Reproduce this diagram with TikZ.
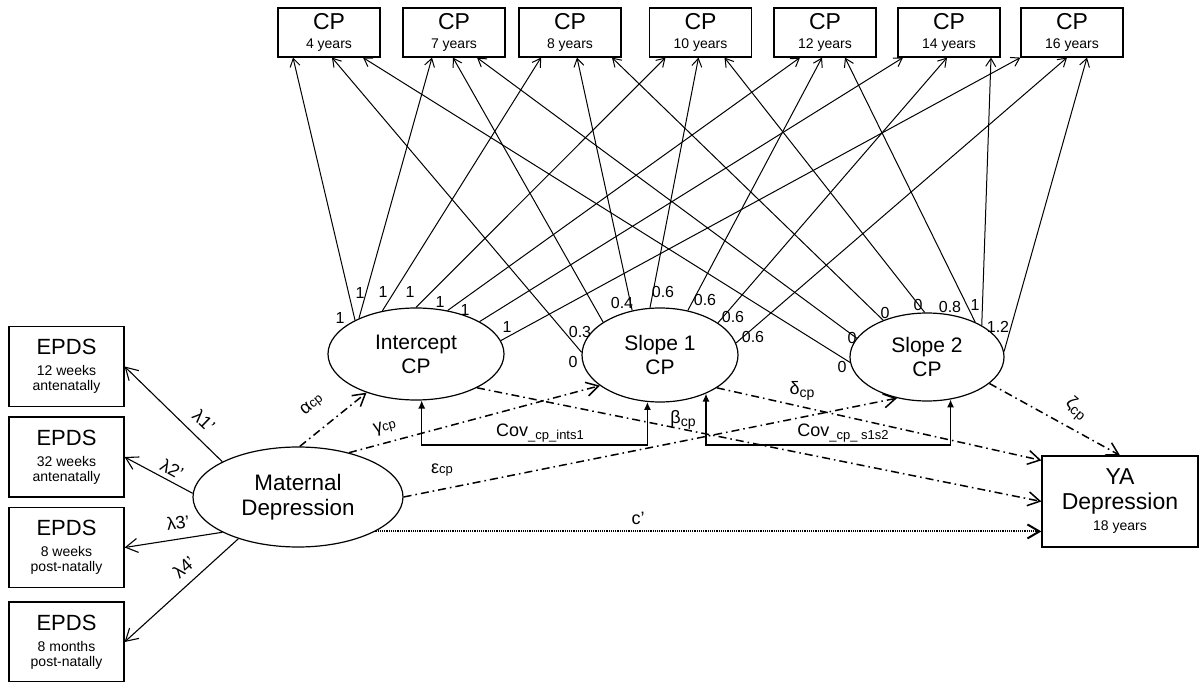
\documentclass[tikz,border=0pt]{standalone}
\usepackage{fontspec}
\setmainfont{Liberation Sans}
\usetikzlibrary{arrows.meta, calc, positioning, shapes.geometric}

\newcommand{\agetxt}[1]{{\fontsize{7}{7}\selectfont #1}}
\newcommand{\cpsub}{\raisebox{-1.5pt}{\fontsize{7}{7}\selectfont cp}}
\newcommand{\cptxt}{{\fontsize{6.5}{7}\selectfont cp}}

\begin{document}
\begin{tikzpicture}[x=0.5pt, y=0.5pt,
	cpbox/.style = {draw, line width=0.6pt, minimum width=51pt, minimum height=24.5pt, inner sep=0pt, align=center, font=\fontsize{11.5}{9.5}\selectfont},
	epds/.style = {draw, line width=0.6pt, minimum width=57.5pt, minimum height=40pt, inner sep=0pt, align=center, font=\fontsize{11}{7.5}\selectfont},
	factor/.style = {draw, line width=0.6pt, ellipse, inner sep=0pt, align=center, font=\fontsize{10.5}{12}\selectfont},
	num/.style = {inner sep=0pt, font=\fontsize{8}{8}\selectfont},
	lbl/.style = {inner sep=0pt, font=\fontsize{9}{9}\selectfont},
	load/.style = {line width=0.5pt, -{Straight Barb[length=4pt, width=5pt]}},
	meas/.style = {line width=0.55pt, -{Straight Barb[length=6pt, width=7pt]}},
	effect/.style = {line width=0.75pt, dash pattern=on 4pt off 2pt on 0.8pt off 2pt, -{Straight Barb[length=6pt, width=7pt]}},
	direct/.style = {line width=1pt, dash pattern=on 0.6pt off 0.5pt, -{Straight Barb[length=6pt, width=7pt]}},
	cov/.style = {line width=0.6pt, {Latex[length=4pt, width=3.5pt]}-{Latex[length=4pt, width=3.5pt]}}]

	\path[use as bounding box, fill=white] (0,0) rectangle (1200,681);

	% repeated measures of CP
	\node[cpbox] (cp4) at (329,648.5) {CP\\\agetxt{4 years}};
	\node[cpbox] (cp7) at (454,648.5) {CP\\\agetxt{7 years}};
	\node[cpbox] (cp8) at (570,648.5) {CP\\\agetxt{8 years}};
	\node[cpbox] (cp10) at (700.5,648.5) {CP\\\agetxt{10 years}};
	\node[cpbox] (cp12) at (825,648.5) {CP\\\agetxt{12 years}};
	\node[cpbox] (cp14) at (949,648.5) {CP\\\agetxt{14 years}};
	\node[cpbox] (cp16) at (1072,648.5) {CP\\\agetxt{16 years}};

	% growth factors
	\node[factor, minimum width=88pt, minimum height=46pt] (int) at (416,327) {Intercept\\CP};
	\node[factor, minimum width=78pt, minimum height=47pt] (s1) at (660,326) {Slope 1\\CP};
	\node[factor, minimum width=77pt, minimum height=44pt] (s2) at (927,324) {Slope 2\\CP};

	% maternal depression and its indicators
	\node[factor, minimum width=105pt, minimum height=50pt, font=\fontsize{11.2}{12.5}\selectfont] (mat) at (298,184) {Maternal\\Depression};
	\node[epds] (e1) at (66.5,314.5) {EPDS\\[3pt]\agetxt{12 weeks}\\\agetxt{antenatally}};
	\node[epds] (e2) at (66.5,224) {EPDS\\[3pt]\agetxt{32 weeks}\\\agetxt{antenatally}};
	\node[epds] (e3) at (66.5,133.5) {EPDS\\[3pt]\agetxt{8 weeks}\\\agetxt{post-natally}};
	\node[epds] (e4) at (66.5,39) {EPDS\\[3pt]\agetxt{8 months}\\\agetxt{post-natally}};

	% outcome
	\node[draw, line width=0.6pt, minimum width=78pt, minimum height=45.5pt, inner sep=0pt, align=center, font=\fontsize{11.5}{10.5}\selectfont] (ya) at (1120,179.5) {YA\\[2pt]Depression\\\agetxt{18 years}};

	% intercept loadings
	\draw[load] (int.151) -- ($(cp4.south)+(-36,0)$);
	\draw[load] (int.148) -- ($(cp7.south)+(-22,0)$);
	\draw[load] (int.128) -- ($(cp8.south)+(-29,0)$);
	\draw[load] (int.90) -- ($(cp10.south)+(-35,0)$);
	\draw[load] (int.54) -- ($(cp12.south)+(-25,0)$);
	\draw[load] (int.27) -- ($(cp14.south)+(-46,0)$);
	\draw[load] (int.9) -- (cp16.south west);
	% slope 1 loadings
	\draw[load] (s1.178) -- ($(cp4.south)+(3,0)$);
	\draw[load] (s1.150) -- ($(cp7.south)+(-1,0)$);
	\draw[load] (s1.122) -- ($(cp8.south)+(7,0)$);
	\draw[load] (s1.102) -- ($(cp10.south)+(-2,0)$);
	\draw[load] (s1.58) -- ($(cp12.south)+(-3,0)$);
	\draw[load] (s1.29) -- ($(cp14.south)+(-2,0)$);
	\draw[load] (s1.9) -- ($(cp16.south)+(-5,0)$);
	% slope 2 loadings
	\draw[load] (s2.184) -- ($(cp4.south)+(34,0)$);
	\draw[load] (s2.165) -- ($(cp7.south)+(23,0)$);
	\draw[load] (s2.140) -- ($(cp8.south)+(42,0)$);
	\draw[load] (s2.93) -- ($(cp10.south)+(24,0)$);
	\draw[load] (s2.36) -- ($(cp12.south)+(20,0)$);
	\draw[load] (s2.30) -- ($(cp14.south)+(42,0)$);
	\draw[load] (s2.4) -- ($(cp16.south)+(15,0)$);

	\node[num] (n1) at (340,363) {1};
	\node[num] (n2) at (360,388) {1};
	\node[num] (n3) at (383,389) {1};
	\node[num] (n4) at (410,389) {1};
	\node[num] (n5) at (440,379) {1};
	\node[num] (n6) at (465,371) {1};
	\node[num] (n7) at (507,354) {1};
	\node[num] (n8) at (573,319) {0};
	\node[num] (n9) at (580,349) {0.3};
	\node[num] (n10) at (622,378) {0.4};
	\node[num] (n11) at (663,389) {0.6};
	\node[num] (n12) at (705,381) {0.6};
	\node[num] (n13) at (733,364) {0.6};
	\node[num] (n14) at (753,344) {0.6};
	\node[num] (n15) at (842,314) {0};
	\node[num] (n16) at (852,343) {0};
	\node[num] (n17) at (885,368) {0};
	\node[num] (n18) at (918,376) {0};
	\node[num] (n19) at (950,374) {0.8};
	\node[num] (n20) at (975,376) {1};
	\node[num] (n21) at (998,354) {1.2};

	% measurement of maternal depression
	\draw[meas] (mat.155) -- (e1.east);
	\draw[meas] (mat.178) -- (e2.east);
	\draw[meas] (mat.205) -- (e3.east);
	\draw[meas] (mat.215) -- (e4.east);
	\node[lbl, rotate=-44] (lam1) at (204,260) {λ1'};
	\node[lbl, rotate=-29] (lam2) at (172,212) {λ2'};
	\node[lbl, rotate=8] (lam3) at (178,158) {λ3'};
	\node[lbl, rotate=41] (lam4) at (184,114) {λ4'};

	% structural paths
	\draw[effect] (mat.88) -- (int.218);
	\draw[effect] (mat.41) -- (s1.207);
	\draw[effect] (mat.0) -- (s2.234);
	\draw[effect] (int.331) -- (ya.west);
	\draw[effect] (s1.330) -- ($(ya.north west)+(0,-5)$);
	\draw[effect] (s2.337) -- (ya.north);
	\draw[direct] (mat.336) -- (mat.336 -| ya.west);
	\node[lbl, rotate=39] (alpha) at (312,276) {α\cptxt};
	\node[lbl, rotate=15] (gamma) at (385,253) {γ\cptxt};
	\node[lbl] (eps) at (442,211) {ε\cptxt};
	\node[lbl] (beta) at (683,261) {β\cpsub};
	\node[lbl] (delta) at (802,290) {δ\cpsub};
	\node[lbl, rotate=-40] (zeta) at (1076,272) {ζ\cpsub};
	\node[lbl] (cprime) at (638,163) {c'};

	% covariances
	\coordinate (covlow) at (0,236);
	\draw[cov] (int.277) -- (int.277 |- covlow) -| (s1.255);
	\draw[cov] (s1.320) -- (s1.320 |- covlow) -| (s2.299);
	\node[lbl] (cov1) at (540,248) {Cov\raisebox{-1.5pt}{\fontsize{6.5}{7}\selectfont \_cp\_ints1}};
	\node[lbl] (cov2) at (843,248) {Cov\raisebox{-1.5pt}{\fontsize{6.5}{7}\selectfont \_cp\_ s1s2}};
\end{tikzpicture}
\end{document}
